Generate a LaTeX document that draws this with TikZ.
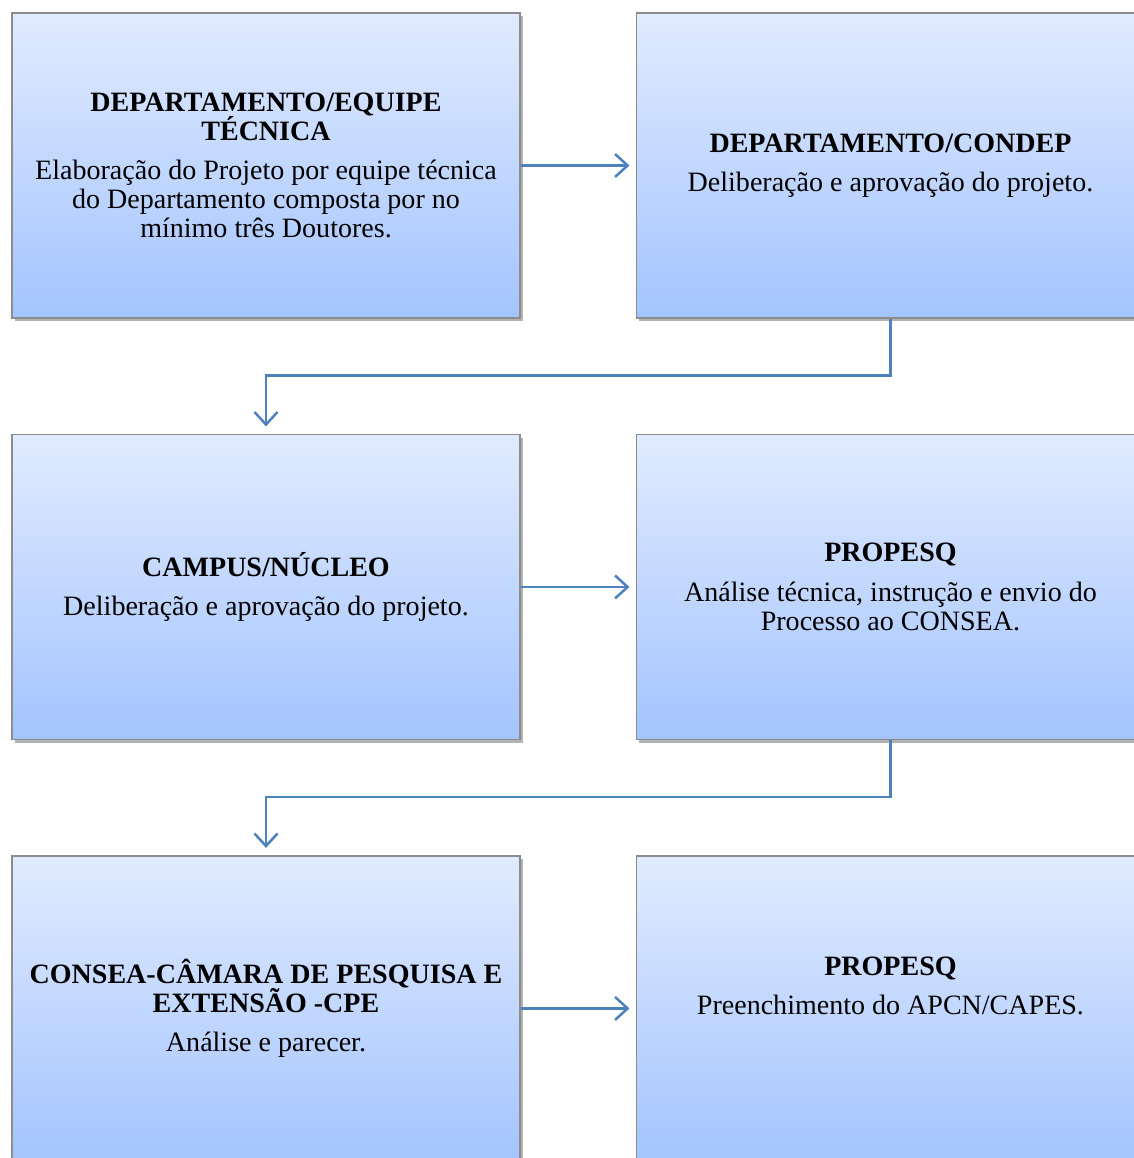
\documentclass[tikz,border=0pt]{standalone}
\usepackage{fontspec}
\setmainfont{Liberation Serif}
\usetikzlibrary{arrows.meta, positioning, shadows}
\definecolor{flowtop}{RGB}{225, 235, 255}
\definecolor{flowbottom}{RGB}{163, 196, 255}
\definecolor{flowborder}{RGB}{140, 140, 140}
\definecolor{flowblue}{RGB}{79, 129, 189}

\begin{document}
\begin{tikzpicture}[
    x=0.0168cm, y=-0.0168cm,
    node distance=1.932cm and 1.932cm,
    every node/.style={font=\fontsize{13.4}{13.9}\selectfont},
    stagebox/.style={rectangle, draw=flowborder, line width=0.7pt, top color=flowtop, bottom color=flowbottom, minimum width=8.534cm, minimum height=5.124cm, align=center, drop shadow={shadow xshift=1.2pt, shadow yshift=-1.5pt, fill=black, opacity=0.3}},
    arrow/.style={-{Straight Barb[length=6pt, width=11pt]}, line width=1.2pt, color=flowblue}
]
\clip (0,0) rectangle (1134,1158);

% Row 1
\node[stagebox] (deptequipe) at (266,165.5) {\textbf{DEPARTAMENTO/EQUIPE}\\\textbf{TÉCNICA}\\[5pt]Elaboração do Projeto por equipe técnica\\do Departamento composta por no\\mínimo três Doutores.};
\node[stagebox, right=of deptequipe] (deptcondep) {\textbf{DEPARTAMENTO/CONDEP}\\[5pt]Deliberação e aprovação do projeto.};

% Row 2
\node[stagebox, below=of deptequipe] (campus) {\textbf{CAMPUS/NÚCLEO}\\[5pt]Deliberação e aprovação do projeto.};
\node[stagebox, right=of campus] (propesqanalise) {\textbf{PROPESQ}\\[5pt]Análise técnica, instrução e envio do\\Processo ao CONSEA.};

% Row 3
\node[stagebox, below=of campus] (consea) {\textbf{CONSEA-CÂMARA DE PESQUISA E}\\\textbf{EXTENSÃO -CPE}\\[5pt]Análise e parecer.};
\node[stagebox, right=of consea] (propesqapcn) {\textbf{PROPESQ}\\[5pt]Preenchimento do APCN/CAPES.\\[8pt]\mbox{}};

% Arrows
\draw[arrow, shorten >=3pt] (deptequipe) -- (deptcondep);
\draw[arrow, shorten >=3.5pt] (deptcondep.south) -- ++(0,57) -| (campus.north);
\draw[arrow, shorten >=3pt] (campus) -- (propesqanalise);
\draw[arrow, shorten >=3.5pt] (propesqanalise.south) -- ++(0,57) -| (consea.north);
\draw[arrow, shorten >=3pt] (consea) -- (propesqapcn);

\end{tikzpicture}
\end{document}
